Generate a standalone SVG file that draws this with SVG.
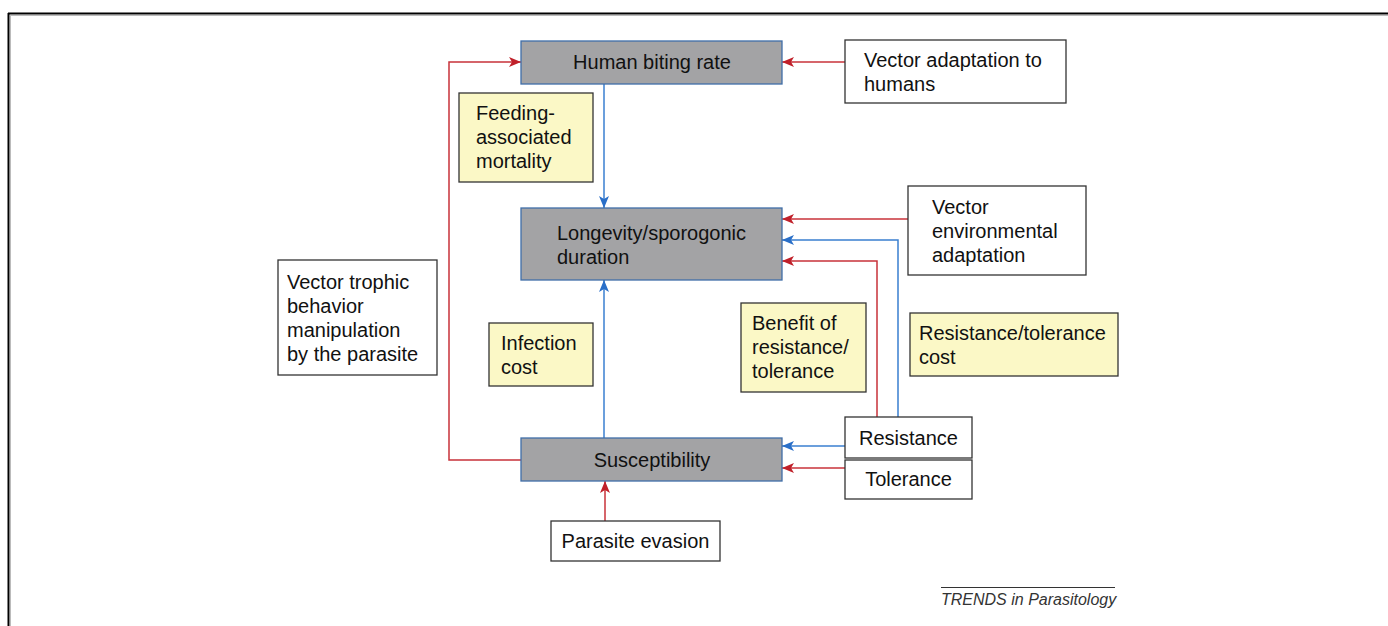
<svg xmlns="http://www.w3.org/2000/svg" width="1388" height="626" viewBox="0 0 1388 626">
<style>
text{font-family:"Liberation Sans",Arial,sans-serif;font-size:20px;fill:#111}
.g{fill:#a3a3a5;stroke:#3f6ea8;stroke-width:1.3}
.w{fill:#fff;stroke:#333;stroke-width:1.3}
.y{fill:#fbf8c6;stroke:#333;stroke-width:1.3}
.r{fill:none;stroke:#c8323a;stroke-width:1.5}
.b{fill:none;stroke:#3a7fd0;stroke-width:1.5}
.c{text-anchor:middle}
</style>
<defs>
<marker id="ar" viewBox="0 0 12 10" refX="12" refY="5" markerWidth="12" markerHeight="10" markerUnits="userSpaceOnUse" orient="auto">
<path d="M0,0 L12,5 L0,10 L3,5 Z" fill="#c0202a"/>
</marker>
<marker id="ab" viewBox="0 0 12 10" refX="12" refY="5" markerWidth="12" markerHeight="10" markerUnits="userSpaceOnUse" orient="auto">
<path d="M0,0 L12,5 L0,10 L3,5 Z" fill="#2a6fc8"/>
</marker>
</defs>
<rect width="1388" height="626" fill="#fff"/>
<g id="frame">
<line x1="8" y1="13.5" x2="1388" y2="13.5" stroke="#000" stroke-width="2"/>
<line x1="8.5" y1="13" x2="8.5" y2="626" stroke="#000" stroke-width="2"/>
<line x1="10" y1="15.5" x2="1388" y2="15.5" stroke="#bbb" stroke-width="1"/>
<line x1="10.5" y1="15" x2="10.5" y2="626" stroke="#bbb" stroke-width="1"/>
</g>
<g id="connectors">
<path class="r" d="M845,62 H782" marker-end="url(#ar)"/>
<path class="r" d="M521,460 H449 V62 H521" marker-end="url(#ar)"/>
<path class="b" d="M604,84 V208" marker-end="url(#ab)"/>
<path class="b" d="M604,438 V280" marker-end="url(#ab)"/>
<path class="r" d="M605,521 V481" marker-end="url(#ar)"/>
<path class="r" d="M908,219 H782" marker-end="url(#ar)"/>
<path class="b" d="M898,417 V240 H782" marker-end="url(#ab)"/>
<path class="r" d="M877,417 V261 H782" marker-end="url(#ar)"/>
<path class="b" d="M845,446 H782" marker-end="url(#ab)"/>
<path class="r" d="M845,468 H782" marker-end="url(#ar)"/>
</g>
<g id="human-biting-rate">
<rect class="g" x="521" y="41" width="261" height="43"/>
<text class="c" x="652" y="69">Human biting rate</text>
</g>
<g id="vector-adaptation-humans">
<rect class="w" x="845" y="40" width="221" height="63"/>
<text x="864" y="67">Vector adaptation to</text>
<text x="864" y="91">humans</text>
</g>
<g id="feeding-mortality">
<rect class="y" x="459" y="93" width="134" height="89"/>
<text x="476" y="120">Feeding-</text>
<text x="476" y="144">associated</text>
<text x="476" y="168">mortality</text>
</g>
<g id="longevity">
<rect class="g" x="521" y="208" width="261" height="72"/>
<text x="557" y="240">Longevity/sporogonic</text>
<text x="557" y="264">duration</text>
</g>
<g id="vector-env-adaptation">
<rect class="w" x="908" y="186" width="178" height="89"/>
<text x="932" y="214">Vector</text>
<text x="932" y="238">environmental</text>
<text x="932" y="262">adaptation</text>
</g>
<g id="trophic-manipulation">
<rect class="w" x="278" y="260" width="159" height="115"/>
<text x="287" y="289">Vector trophic</text>
<text x="287" y="313">behavior</text>
<text x="287" y="337">manipulation</text>
<text x="287" y="361">by the parasite</text>
</g>
<g id="infection-cost">
<rect class="y" x="489" y="323" width="104" height="63"/>
<text x="501" y="350">Infection</text>
<text x="501" y="374">cost</text>
</g>
<g id="benefit-resistance">
<rect class="y" x="741" y="303" width="125" height="89"/>
<text x="752" y="330">Benefit of</text>
<text x="752" y="354">resistance/</text>
<text x="752" y="378">tolerance</text>
</g>
<g id="resistance-cost">
<rect class="y" x="910" y="313" width="208" height="63"/>
<text x="919" y="340">Resistance/tolerance</text>
<text x="919" y="364">cost</text>
</g>
<g id="resistance">
<rect class="w" x="845" y="417" width="127" height="41"/>
<text class="c" x="908.5" y="445">Resistance</text>
</g>
<g id="tolerance">
<rect class="w" x="845" y="460" width="127" height="39"/>
<text class="c" x="908.5" y="486">Tolerance</text>
</g>
<g id="susceptibility">
<rect class="g" x="521" y="438" width="261" height="43"/>
<text class="c" x="652" y="467">Susceptibility</text>
</g>
<g id="parasite-evasion">
<rect class="w" x="551" y="521" width="169" height="40"/>
<text class="c" x="635.5" y="548">Parasite evasion</text>
</g>
<g id="credit">
<line x1="941" y1="587.5" x2="1115" y2="587.5" stroke="#333" stroke-width="1"/>
<text x="941" y="605" style="font-size:16px;font-style:italic;fill:#333">TRENDS in Parasitology</text>
</g>
</svg>
